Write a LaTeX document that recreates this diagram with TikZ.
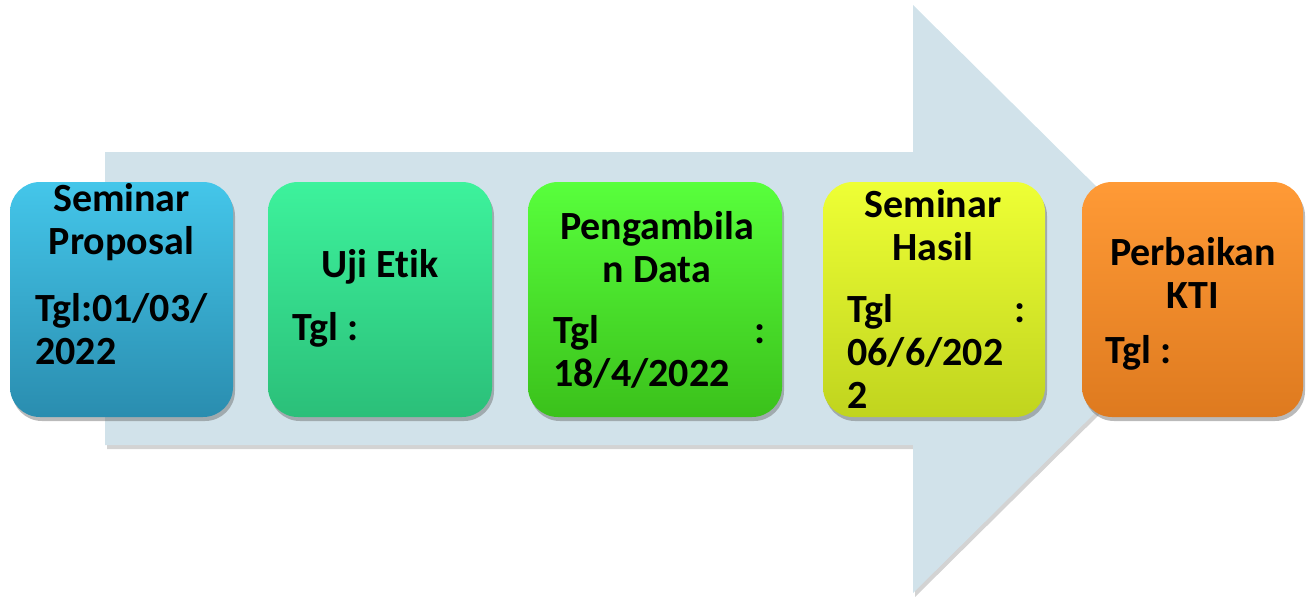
\documentclass[tikz,border=0pt]{standalone}
\usepackage{fontspec}
\setmainfont{Carlito}[Ligatures=NoCommon]
\usetikzlibrary{shadows}
\definecolor{shaftblue}{HTML}{D1E2EA}
\definecolor{cyantop}{HTML}{44C6EA}
\definecolor{cyanbot}{HTML}{2A8DAF}
\definecolor{minttop}{HTML}{3DF29C}
\definecolor{mintbot}{HTML}{2BBF79}
\definecolor{limetop}{HTML}{58FF3C}
\definecolor{limebot}{HTML}{3BC11B}
\definecolor{yellowtop}{HTML}{EEFF35}
\definecolor{yellowbot}{HTML}{C0D41E}
\definecolor{orangetop}{HTML}{FF9A36}
\definecolor{orangebot}{HTML}{DE7A1F}
\tikzset{
  stagebox/.style={rounded corners=15pt, minimum height=117.5pt, inner sep=0pt,
    drop shadow={shadow xshift=1pt, shadow yshift=-2pt, opacity=0.45, fill=black!60}},
  stagetext/.style={font=\fontsize{20}{21.5}\selectfont\bfseries, inner sep=0pt, align=center},
  datetext/.style={font=\fontsize{20}{21.5}\selectfont\bfseries, inner sep=0pt, align=left, anchor=west}
}
\begin{document}
\begin{tikzpicture}[x=0.5pt, y=-0.5pt]
  \useasboundingbox (0,0) rectangle (1312,596);
  \fill[shaftblue, drop shadow={shadow xshift=1pt, shadow yshift=-2pt, opacity=0.35, fill=black!50}]
    (105,152) -- (913,152) -- (913,5) -- (1210,299) -- (913,593) -- (913,445) -- (105,445) -- cycle;

  \node[stagebox, minimum width=111.5pt, top color=cyantop, bottom color=cyanbot] (proposal) at (121.5,299.5) {};
  \node[stagetext] (proposaltitle) at (121.5,222) {Seminar\\Proposal};
  \node[datetext] (proposaldate) at (35,329) {Tgl:01/03/\\2022};

  \node[stagebox, minimum width=112pt, top color=minttop, bottom color=mintbot] (etik) at (380,299.5) {};
  \node[stagetext] (etiktitle) at (380,267) {Uji Etik};
  \node[datetext] (etikdate) at (292,330) {Tgl :};

  \node[stagebox, minimum width=127pt, top color=limetop, bottom color=limebot] (data) at (655,299.5) {};
  \node[stagetext] (datatitle) at (657,247) {Pengambila\\n Data};
  \node[datetext, text width=106pt] (datadate) at (553,352) {Tgl\hfill:\\18/4/2022};

  \node[stagebox, minimum width=111pt, top color=yellowtop, bottom color=yellowbot] (hasil) at (934,299.5) {};
  \node[stagetext] (hasiltitle) at (933,225) {Seminar\\Hasil};
  \node[datetext, text width=89pt] (hasildate) at (847,351) {Tgl\hfill:\\06/6/202\\2};

  \node[stagebox, minimum width=110.5pt, top color=orangetop, bottom color=orangebot] (kti) at (1192.5,299.5) {};
  \node[stagetext] (ktititle) at (1193,273) {Perbaikan\\KTI};
  \node[datetext] (ktidate) at (1105,353) {Tgl :};
\end{tikzpicture}
\end{document}
